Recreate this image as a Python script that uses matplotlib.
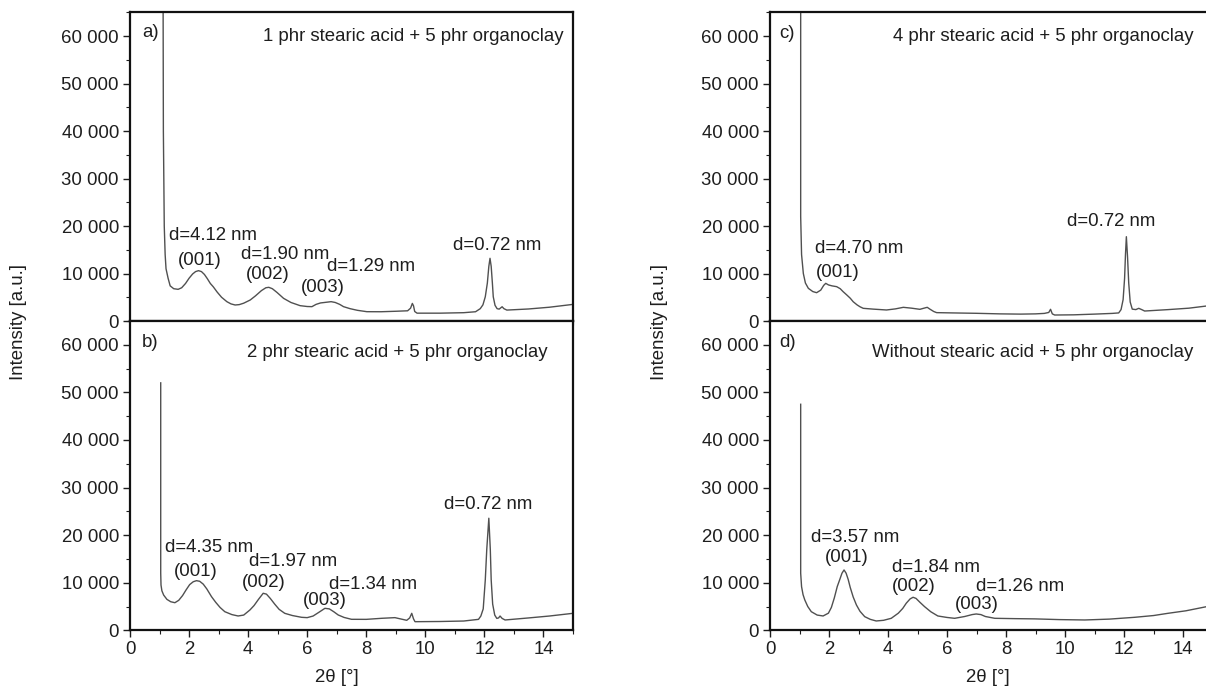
import matplotlib
matplotlib.use("Agg")
import matplotlib.pyplot as plt
from matplotlib.ticker import MultipleLocator, FuncFormatter

plt.rcParams['font.family'] = ['Liberation Sans', 'DejaVu Sans']

# ---------------- data ----------------
a_x = [1.12, 1.13, 1.16, 1.19, 1.22, 1.29, 1.36, 1.48, 1.63, 1.75, 1.88, 2.00, 2.12, 2.22, 2.32, 2.42,
       2.52, 2.62, 2.72, 2.82, 2.95, 3.10, 3.28, 3.42, 3.56, 3.70, 3.85, 4.07, 4.25, 4.45, 4.60, 4.70,
       4.82, 4.98, 5.20, 5.45, 5.76, 6.00, 6.16, 6.30, 6.45, 6.65, 6.81, 6.95, 7.10, 7.23, 7.45, 7.70,
       8.02, 8.50, 9.00, 9.40, 9.50, 9.56, 9.60, 9.64, 9.72, 10.5, 11.3, 11.70, 11.86, 11.95, 12.03,
       12.10, 12.15, 12.19, 12.23, 12.27, 12.30, 12.36, 12.43, 12.50, 12.56, 12.60, 12.66, 12.76,
       13.49, 14.2, 15.0]
a_y = [70000, 40000, 20000, 14000, 11000, 9000, 7400, 6800, 6670, 7000, 7900, 9000, 9900, 10400,
       10600, 10400, 9800, 8900, 7900, 7200, 6100, 5000, 4070, 3600, 3370, 3450, 3750, 4420, 5300,
       6400, 7000, 7090, 6800, 6000, 4770, 3900, 3230, 3050, 3020, 3500, 3800, 3950, 4070, 3900,
       3500, 3020, 2600, 2250, 1960, 1950, 2050, 2150, 2700, 3700, 3200, 2000, 1650, 1650, 1750,
       1950, 2600, 3400, 5100, 8000, 11500, 13200, 11500, 8000, 5100, 3300, 2600, 2500, 2800, 3000,
       2600, 2300, 2530, 2900, 3500]

b_x = [1.04, 1.04, 1.05, 1.08, 1.14, 1.25, 1.38, 1.52, 1.65, 1.78, 1.90, 2.02, 2.14, 2.25, 2.36, 2.48,
       2.60, 2.76, 2.90, 3.05, 3.21, 3.45, 3.66, 3.85, 4.06, 4.20, 4.35, 4.51, 4.62, 4.75, 4.90, 5.05,
       5.24, 5.50, 5.81, 6.00, 6.20, 6.40, 6.60, 6.75, 6.90, 7.05, 7.25, 7.50, 8.00, 8.52, 8.97, 9.37,
       9.47, 9.54, 9.60, 9.65, 10.5, 11.3, 11.80, 11.88, 11.96, 12.03, 12.08, 12.15, 12.20, 12.23,
       12.28, 12.35, 12.42, 12.48, 12.53, 12.60, 12.70, 13.5, 14.2, 15.0]
b_y = [52000, 12000, 9500, 8300, 7400, 6500, 6000, 5800, 6300, 7300, 8500, 9600, 10200, 10430,
       10300, 9700, 8700, 7070, 5900, 4800, 3910, 3300, 3010, 3200, 4270, 5200, 6500, 7780, 7600,
       6700, 5500, 4400, 3570, 3100, 2730, 2660, 3000, 3800, 4620, 4500, 3900, 3220, 2700, 2310,
       2300, 2520, 2660, 2100, 2600, 3570, 2400, 1810, 1850, 1950, 2300, 3000, 4500, 10580, 17000,
       23550, 17000, 10580, 5500, 3200, 2500, 2600, 3000, 2500, 2170, 2600, 3000, 3570]

c_x = [1.04, 1.04, 1.07, 1.13, 1.20, 1.30, 1.45, 1.58, 1.72, 1.82, 1.89, 1.98, 2.10, 2.26, 2.38, 2.48,
       2.60, 2.72, 2.82, 2.95, 3.05, 3.16, 3.50, 3.95, 4.25, 4.52, 4.80, 5.08, 5.22, 5.33, 5.42, 5.55,
       5.65, 6.20, 7.00, 7.80, 8.50, 9.00, 9.30, 9.45, 9.51, 9.57, 9.65, 10.3, 11.0, 11.60, 11.82,
       11.90, 11.97, 12.02, 12.05, 12.08, 12.12, 12.16, 12.21, 12.28, 12.40, 12.50, 12.60, 12.70,
       13.5, 14.2, 14.8]
c_y = [70000, 22000, 14000, 10000, 8000, 6880, 6200, 5960, 6500, 7500, 7930, 7600, 7400, 7230,
       6800, 6170, 5500, 4800, 4060, 3400, 3000, 2670, 2500, 2320, 2550, 2880, 2700, 2460, 2700,
       2880, 2500, 2000, 1760, 1700, 1620, 1500, 1450, 1500, 1600, 1800, 2460, 1500, 1260, 1300,
       1450, 1600, 1700, 2400, 4500, 9000, 14000, 17750, 13500, 8000, 4000, 2500, 2400, 2670, 2400,
       2100, 2400, 2700, 3160]

d_x = [1.04, 1.04, 1.07, 1.12, 1.18, 1.28, 1.40, 1.60, 1.80, 1.98, 2.08, 2.18, 2.28, 2.36, 2.44, 2.51,
       2.58, 2.65, 2.72, 2.82, 2.93, 3.05, 3.21, 3.40, 3.60, 3.85, 4.11, 4.35, 4.50, 4.62, 4.75, 4.85,
       4.95, 5.08, 5.24, 5.45, 5.69, 6.00, 6.26, 6.60, 6.85, 6.99, 7.15, 7.30, 7.62, 8.30, 8.97, 9.80,
       10.67, 11.5, 12.36, 13.0, 13.49, 14.1, 14.8]
d_y = [47500, 12000, 9170, 7500, 6370, 5000, 3910, 3200, 3010, 3600, 4800, 6800, 9200, 10580,
       12000, 12680, 12000, 10700, 9000, 7000, 5320, 4000, 2870, 2300, 1960, 2100, 2520, 3600, 4600,
       5700, 6600, 6940, 6700, 5900, 4970, 3900, 3010, 2700, 2520, 2900, 3300, 3430, 3300, 2900,
       2520, 2450, 2400, 2250, 2170, 2350, 2730, 3100, 3570, 4100, 4970]

panel_letters = ["a)", "b)", "c)", "d)"]
panel_titles = ["1 phr stearic acid + 5 phr organoclay",
                "2 phr stearic acid + 5 phr organoclay",
                "4 phr stearic acid + 5 phr organoclay",
                "Without stearic acid + 5 phr organoclay"]

# annotations: (text, x, y)
a_notes = [("d=4.12 nm", 2.81, 17900), ("(001)", 2.37, 12800),
           ("d=1.90 nm", 5.25, 14100), ("(002)", 4.68, 9700),
           ("d=1.29 nm", 8.17, 11400), ("(003)", 6.54, 7150),
           ("d=0.72 nm", 12.44, 16000)]
b_notes = [("d=4.35 nm", 2.68, 17300), ("(001)", 2.24, 12300),
           ("d=1.97 nm", 5.53, 14400), ("(002)", 4.54, 10000),
           ("d=1.34 nm", 8.24, 9700), ("(003)", 6.61, 6200),
           ("d=0.72 nm", 12.14, 26400)]
c_notes = [("d=4.70 nm", 3.02, 15300), ("(001)", 2.31, 10300),
           ("d=0.72 nm", 11.55, 21000)]
d_notes = [("d=3.57 nm", 2.88, 19400), ("(001)", 2.60, 15200),
           ("d=1.84 nm", 5.63, 13300), ("(002)", 4.88, 9100),
           ("d=1.26 nm", 8.47, 9300), ("(003)", 7.00, 5500)]

y_ticks = [0, 10000, 20000, 30000, 40000, 50000, 60000]
x_ticks = [0, 2, 4, 6, 8, 10, 12, 14]

# ---------------- figure ----------------
W, H = 1206, 687
fig = plt.figure(figsize=(W / 100, H / 100), dpi=100)

def px_axes(x0, x1, ytop, ybot):
    return fig.add_axes([x0 / W, 1 - ybot / H, (x1 - x0) / W, (ybot - ytop) / H])

FS = 13.4
txt_col = '#1e1e1e'
line_col = '#505050'

ax_a = px_axes(130, 573, 12.3, 321)
ax_b = px_axes(130, 573, 321, 630.3)
ax_c = px_axes(770, 1212.5, 12.3, 321)
ax_d = px_axes(770, 1212.5, 321, 630.3)

fmt = FuncFormatter(lambda v, p: f"{int(v):,}".replace(",", " "))

panels = [(ax_a, a_x, a_y, a_notes, 0.30, 0.923, 0.933),
          (ax_b, b_x, b_y, b_notes, 0.264, 0.897, 0.930),
          (ax_c, c_x, c_y, c_notes, 0.278, 0.923, 0.930),
          (ax_d, d_x, d_y, d_notes, 0.230, 0.897, 0.930)]

for i, (ax, xs, ys, notes, tx, ty, ly) in enumerate(panels):
    ax.plot(xs, ys, color=line_col, lw=1.0)
    ax.set_xlim(0, 15)
    ax.set_ylim(0, 65000)
    ax.set_yticks(y_ticks)
    ax.yaxis.set_minor_locator(MultipleLocator(5000))
    ax.yaxis.set_major_formatter(fmt)
    ax.set_xticks(x_ticks)
    ax.xaxis.set_minor_locator(MultipleLocator(1))
    ax.tick_params(axis='both', which='major', direction='out', length=5, width=1.0,
                   labelsize=FS, pad=3, colors=txt_col)
    ax.tick_params(axis='both', which='minor', direction='out', length=3, width=0.8,
                   colors=txt_col)
    ax.tick_params(top=False, right=False)
    for s in ax.spines.values():
        s.set_linewidth(1.6)
        s.set_color('#111111')
    if i in (0, 2):
        ax.tick_params(axis='x', labelbottom=False)
    ax.text(0.027 if i < 2 else 0.02, ly, panel_letters[i], transform=ax.transAxes,
            ha='left', va='center', fontsize=FS, color=txt_col)
    ax.text(tx, ty, panel_titles[i], transform=ax.transAxes, ha='left', va='center',
            fontsize=FS, color=txt_col)
    for (t, x, y) in notes:
        ax.text(x, y, t, ha='center', va='center', fontsize=FS, color=txt_col)

fig.text(19 / W, 1 - 322 / H, "Intensity [a.u.]", rotation=90, ha='center', va='center',
         fontsize=FS, color=txt_col)
fig.text(659 / W, 1 - 322 / H, "Intensity [a.u.]", rotation=90, ha='center', va='center',
         fontsize=FS, color=txt_col)
fig.text(337 / W, 1 - 677 / H, "2θ [°]", ha='center', va='center', fontsize=FS, color=txt_col)
fig.text(988 / W, 1 - 677 / H, "2θ [°]", ha='center', va='center', fontsize=FS, color=txt_col)

fig.savefig("out.png", dpi=100)
